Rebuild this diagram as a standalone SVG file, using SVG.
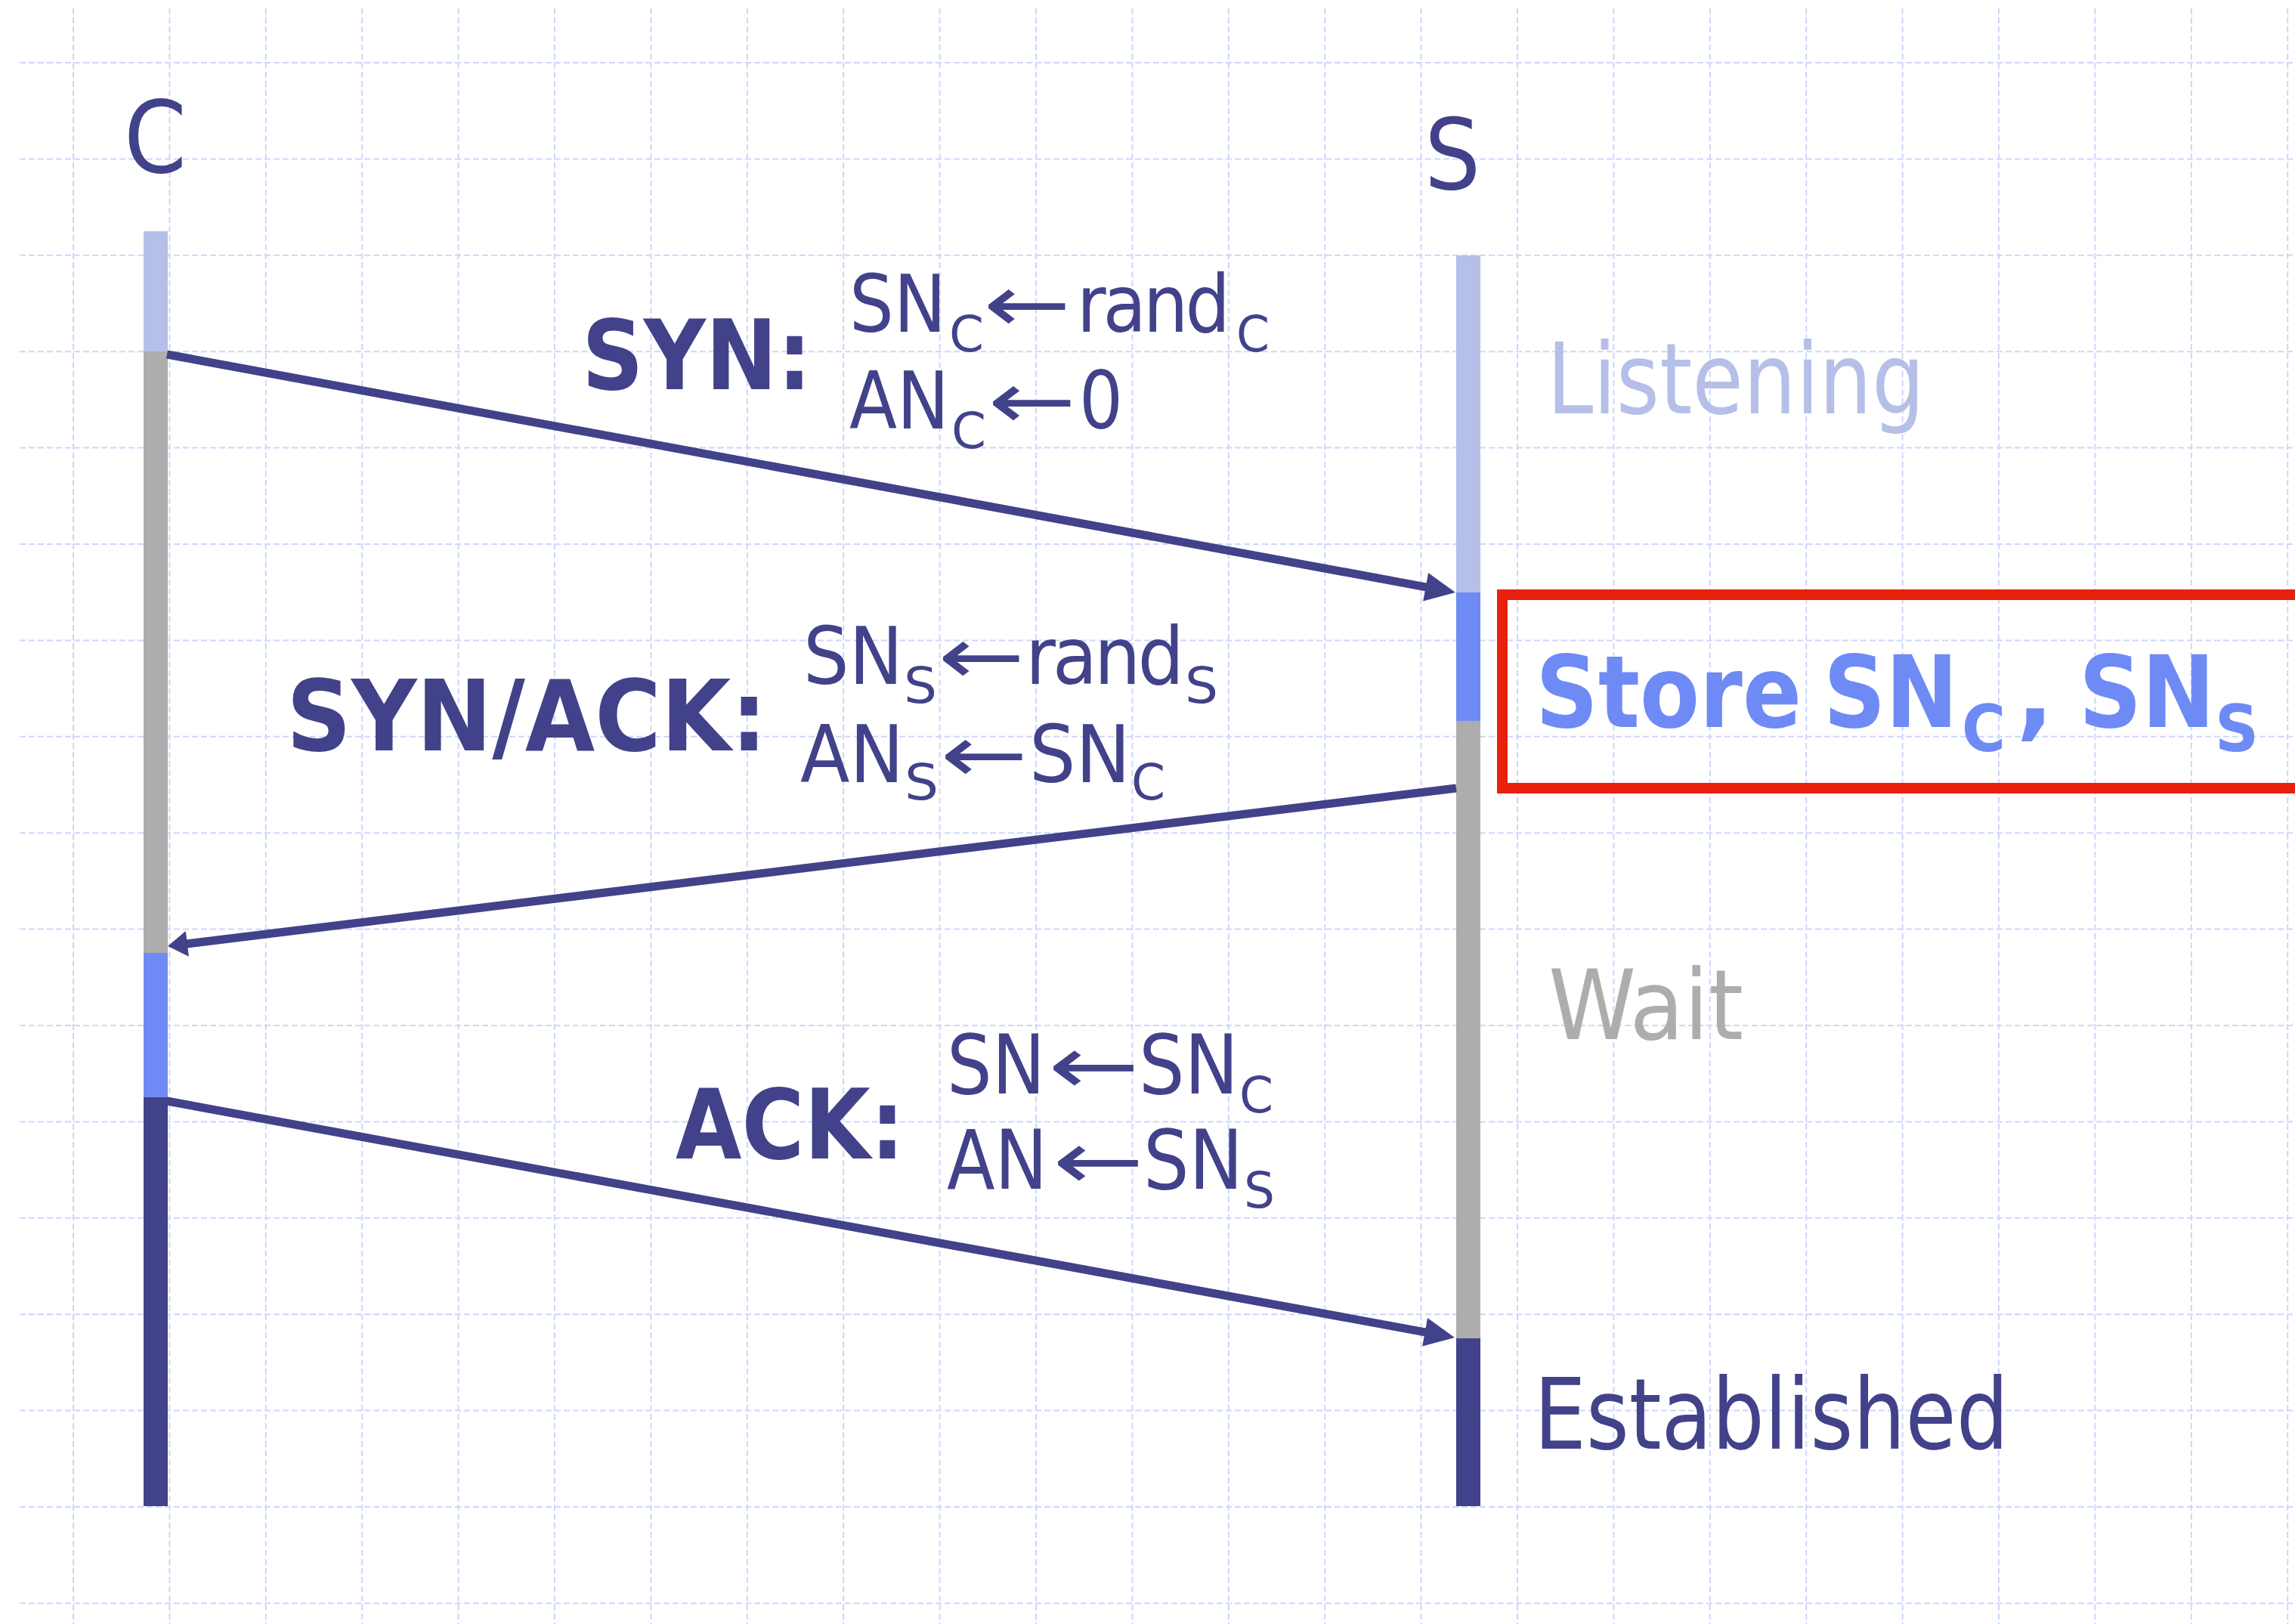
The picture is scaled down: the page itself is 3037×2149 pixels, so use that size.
<svg xmlns="http://www.w3.org/2000/svg" width="3037" height="2149" viewBox="0 0 3037 2149">
<style>
.grid{fill:none;stroke:#cdd7fb;stroke-width:2;stroke-dasharray:8 4}
.msg{fill:none;stroke:#42428a;stroke-width:11}
.t{font-family:'DejaVu Sans Condensed','DejaVu Sans',sans-serif;fill:#42428a}
.b{font-weight:bold}
.m{font-size:106px}
.sub{font-size:66px}
.tight{letter-spacing:-4px}
.navy{fill:#42428a}
.light{fill:#b6bfe8}
.blue{fill:#6e8af5}
.gray{fill:#adadad}
</style>
<defs>
<marker id="ah" markerUnits="userSpaceOnUse" markerWidth="44" markerHeight="40" refX="14" refY="19" orient="auto" overflow="visible">
<path d="M0,0 L40,19 L0,38 z" fill="#42428a"/>
</marker>
<marker id="ahs" markerUnits="userSpaceOnUse" markerWidth="30" markerHeight="36" refX="10" refY="17" orient="auto" overflow="visible">
<path d="M0,0 L26,17 L0,34 z" fill="#42428a"/>
</marker>
</defs>
<rect width="3037" height="2149" fill="#ffffff"/>
<g id="grid">
<path class="grid" d="M26,83H3037M26,210.4H3037M26,337.8H3037M26,465.2H3037M26,592.6H3037M26,720H3037M26,847.4H3037M26,974.8H3037M26,1102.2H3037M26,1229.6H3037M26,1357H3037M26,1484.4H3037M26,1611.8H3037M26,1739.2H3037M26,1866.6H3037M26,1994H3037M26,2121.4H3037"/>
<path class="grid" d="M97,11V2149M224.4,11V2149M351.8,11V2149M479.2,11V2149M606.6,11V2149M734,11V2149M861.4,11V2149M988.8,11V2149M1116.2,11V2149M1243.6,11V2149M1371,11V2149M1498.4,11V2149M1625.8,11V2149M1753.2,11V2149M1880.6,11V2149M2008,11V2149M2135.4,11V2149M2262.8,11V2149M2390.2,11V2149M2517.6,11V2149M2645,11V2149M2772.4,11V2149M2899.8,11V2149M3027.2,11V2149"/>
</g>
<g id="client">
<text class="t" x="164" y="228" font-size="132">C</text>
<rect class="light" x="190" y="306" width="32" height="159"/>
<rect class="gray" x="190" y="465" width="32" height="796"/>
<rect class="blue" x="190" y="1261" width="32" height="191"/>
<rect class="navy" x="190" y="1452" width="32" height="541"/>
</g>
<g id="server">
<text class="t" x="1885" y="250" font-size="130">S</text>
<rect class="light" x="1927" y="338" width="32" height="446"/>
<rect class="blue" x="1927" y="784" width="32" height="170"/>
<rect class="gray" x="1927" y="954" width="32" height="817"/>
<rect class="navy" x="1927" y="1771" width="32" height="222"/>
</g>
<g id="connectors">
<line class="msg" x1="221" y1="469" x2="1900.4" y2="779.3" marker-end="url(#ah)"/>
<line class="msg" x1="1927" y1="1043" x2="237.9" y2="1250.1" marker-end="url(#ahs)"/>
<line class="msg" x1="221" y1="1457" x2="1899.4" y2="1765.3" marker-end="url(#ah)"/>
</g>
<g id="label-syn">
<text class="t b" x="770" y="515" font-size="128" textLength="304" lengthAdjust="spacingAndGlyphs">SYN:</text>
<text class="t m" y="439"><tspan x="1124" textLength="128" lengthAdjust="spacingAndGlyphs">SN</tspan><tspan class="sub" x="1256" y="465" textLength="46" lengthAdjust="spacingAndGlyphs">C</tspan><tspan x="1301" y="439" textLength="116" lengthAdjust="spacingAndGlyphs">←</tspan><tspan class="tight" x="1425" textLength="199" lengthAdjust="spacingAndGlyphs">rand</tspan><tspan class="sub" x="1636" y="465" textLength="44" lengthAdjust="spacingAndGlyphs">C</tspan></text>
<text class="t m" y="567"><tspan x="1124" textLength="132" lengthAdjust="spacingAndGlyphs">AN</tspan><tspan class="sub" x="1259" y="593" textLength="46" lengthAdjust="spacingAndGlyphs">C</tspan><tspan x="1307" y="567" textLength="117" lengthAdjust="spacingAndGlyphs">←</tspan><tspan x="1428" textLength="58" lengthAdjust="spacingAndGlyphs">0</tspan></text>
</g>
<g id="label-synack">
<text class="t b" x="379" y="993" font-size="130" textLength="636" lengthAdjust="spacingAndGlyphs">SYN/ACK:</text>
<text class="t m" y="905"><tspan x="1063" textLength="132" lengthAdjust="spacingAndGlyphs">SN</tspan><tspan class="sub" x="1196" y="930" textLength="44" lengthAdjust="spacingAndGlyphs">S</tspan><tspan x="1241" y="905" textLength="115" lengthAdjust="spacingAndGlyphs">←</tspan><tspan class="tight" x="1357" textLength="206" lengthAdjust="spacingAndGlyphs">rand</tspan><tspan class="sub" x="1568" y="930" textLength="44" lengthAdjust="spacingAndGlyphs">S</tspan></text>
<text class="t m" y="1035"><tspan x="1059" textLength="137" lengthAdjust="spacingAndGlyphs">AN</tspan><tspan class="sub" x="1197" y="1058" textLength="45" lengthAdjust="spacingAndGlyphs">S</tspan><tspan x="1244" y="1035" textLength="116" lengthAdjust="spacingAndGlyphs">←</tspan><tspan x="1362" textLength="134" lengthAdjust="spacingAndGlyphs">SN</tspan><tspan class="sub" x="1497" y="1058" textLength="45" lengthAdjust="spacingAndGlyphs">C</tspan></text>
</g>
<g id="label-ack">
<text class="t b" x="894" y="1533" font-size="128" textLength="303" lengthAdjust="spacingAndGlyphs">ACK:</text>
<text class="t" font-size="108" y="1447"><tspan x="1253" textLength="130" lengthAdjust="spacingAndGlyphs">SN</tspan><tspan x="1387" textLength="121" lengthAdjust="spacingAndGlyphs">←</tspan><tspan x="1507" textLength="132" lengthAdjust="spacingAndGlyphs">SN</tspan><tspan class="sub" x="1640" y="1472" textLength="45" lengthAdjust="spacingAndGlyphs">C</tspan></text>
<text class="t" font-size="108" y="1573"><tspan x="1253" textLength="133" lengthAdjust="spacingAndGlyphs">AN</tspan><tspan x="1393" textLength="121" lengthAdjust="spacingAndGlyphs">←</tspan><tspan x="1513" textLength="132" lengthAdjust="spacingAndGlyphs">SN</tspan><tspan class="sub" x="1646" y="1598" textLength="41" lengthAdjust="spacingAndGlyphs">S</tspan></text>
</g>
<g id="state-listening">
<text class="t" x="2047" y="547" font-size="130" style="fill:#b6bfe8" textLength="500" lengthAdjust="spacingAndGlyphs">Listening</text>
</g>
<g id="state-store">
<rect x="1988" y="787" width="1070" height="256" fill="none" stroke="#e8200c" stroke-width="14"/>
<text class="t b" y="962" font-size="132" style="fill:#6e8af5"><tspan x="2032" textLength="352" lengthAdjust="spacingAndGlyphs">Store</tspan> <tspan x="2413" textLength="178" lengthAdjust="spacingAndGlyphs">SN</tspan><tspan x="2596" y="994" font-size="85" textLength="58" lengthAdjust="spacingAndGlyphs">C</tspan> <tspan x="2668" y="962" textLength="50" lengthAdjust="spacingAndGlyphs">,</tspan> <tspan x="2751" textLength="180" lengthAdjust="spacingAndGlyphs">SN</tspan><tspan x="2931" y="994" font-size="85" textLength="58" lengthAdjust="spacingAndGlyphs">S</tspan></text>
</g>
<g id="state-wait">
<text class="t" x="2049" y="1375" font-size="128" style="fill:#adadad" textLength="258" lengthAdjust="spacingAndGlyphs">Wait</text>
</g>
<g id="state-established">
<text class="t" x="2030" y="1917" font-size="130" textLength="628" lengthAdjust="spacingAndGlyphs">Established</text>
</g>
</svg>
